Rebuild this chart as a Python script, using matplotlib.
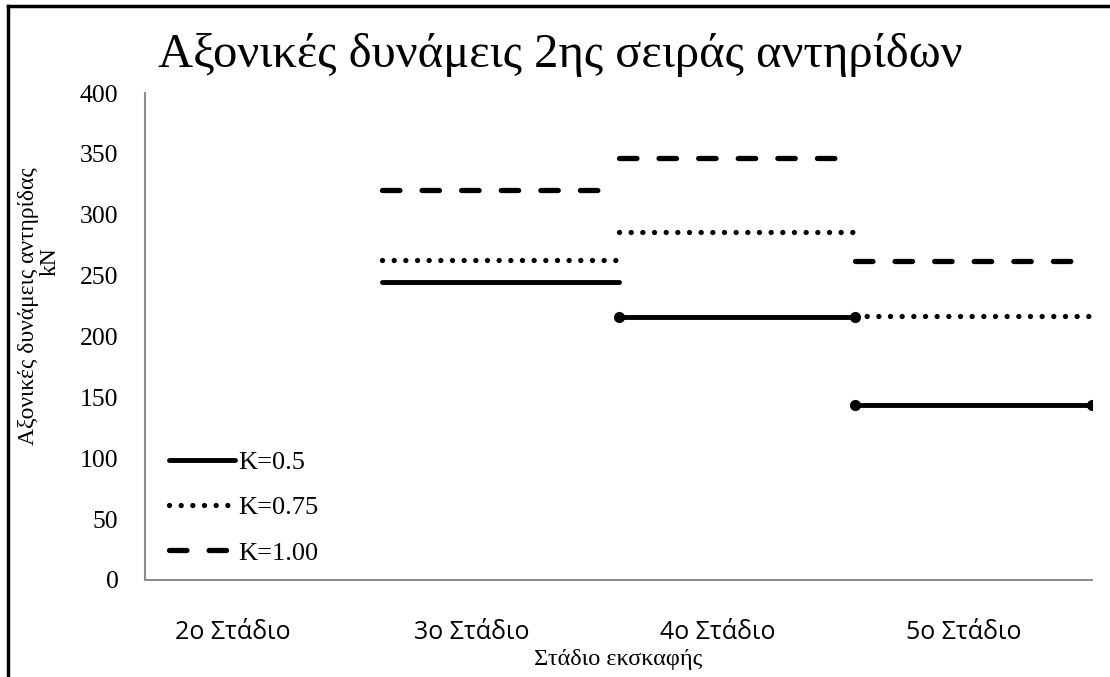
import numpy as np
import matplotlib
matplotlib.use("Agg")
import matplotlib.pyplot as plt
from matplotlib.lines import Line2D

stages = ['2ο Στάδιο', '3ο Στάδιο', '4ο Στάδιο', '5ο Στάδιο']
k050 = [None, 245, 216, 144]
k075 = [None, 263, 286, 217]
k100 = [None, 320, 347, 262]
yticks = [0, 50, 100, 150, 200, 250, 300, 350, 400]

serif = ['Liberation Serif', 'DejaVu Serif']
sans = ['Open Sans', 'DejaVu Sans']

fig = plt.figure(figsize=(11.1, 6.77), dpi=100)
ax = fig.add_axes([145/1110, 1 - 580/677, (1092-145)/1110, (580-93)/677])

styles = [
    ('K=0.5', k050, dict(ls='-', lw=3.5, solid_capstyle='round')),
    ('K=0.75', k075, dict(ls=(0, (0.01, 2.2)), lw=3.8, dash_capstyle='round')),
    ('K=1.00', k100, dict(ls=(0, (3.3, 4.2)), lw=3.8, dash_capstyle='round')),
]

handles = []
for name, vals, st in styles:
    for i, v in enumerate(vals):
        if v is None:
            continue
        ax.plot([i, i + 1], [v, v], color='black', **st)
        # Excel-style point markers on the solid series
        if name == 'K=0.5' and i >= 2:
            ax.plot([i, i + 1], [v, v], 'o', color='black', ms=7)
    handles.append(Line2D([], [], color='black', **st))

ax.set_xlim(0, 4)
ax.set_ylim(0, 400)
ax.set_yticks(yticks)
ax.set_yticklabels([str(t) for t in yticks], family=serif, fontsize=18.5)
ax.set_xticks([0.37, 1.38, 2.42, 3.46])
ax.set_xticklabels(stages, family=sans, fontsize=18)
ax.tick_params(axis='y', length=0, pad=19)
ax.tick_params(axis='x', length=0, pad=29)

for s in ['top', 'right']:
    ax.spines[s].set_visible(False)
for s in ['left', 'bottom']:
    ax.spines[s].set_color('#8c8c8c')
    ax.spines[s].set_linewidth(1.5)

ax.legend(handles, ['K=0.5', 'K=0.75', 'K=1.00'], loc='lower left',
          bbox_to_anchor=(0.0, -0.017), frameon=False, handlelength=2.5,
          handletextpad=0.12, labelspacing=0.82,
          prop={'family': serif, 'size': 19})

fig.text(560/1110, 1 - 55/677, 'Αξονικές δυνάμεις 2ης σειράς αντηρίδων',
         family=serif, fontsize=35, ha='center', va='center')
fig.text(29/1110, 1 - 306/677, 'Αξονικές δυνάμεις αντηρίδας',
         family=serif, fontsize=17, ha='center', va='center', rotation=90)
fig.text(50/1110, 1 - 262/677, 'kN',
         family=serif, fontsize=17, ha='center', va='center', rotation=90)
fig.text(618/1110, 1 - 659/677, 'Στάδιο εκσκαφής', family=serif,
         fontsize=17.5, ha='center', va='center')

# outer frame lines (left and top only)
fig.add_artist(Line2D([8/1110, 8/1110], [0, 1 - 6/677], color='black', lw=2.5,
                      transform=fig.transFigure))
fig.add_artist(Line2D([8/1110, 1], [1 - 6/677, 1 - 6/677], color='black', lw=2.5,
                      transform=fig.transFigure))

fig.savefig('out.png', dpi=100)
